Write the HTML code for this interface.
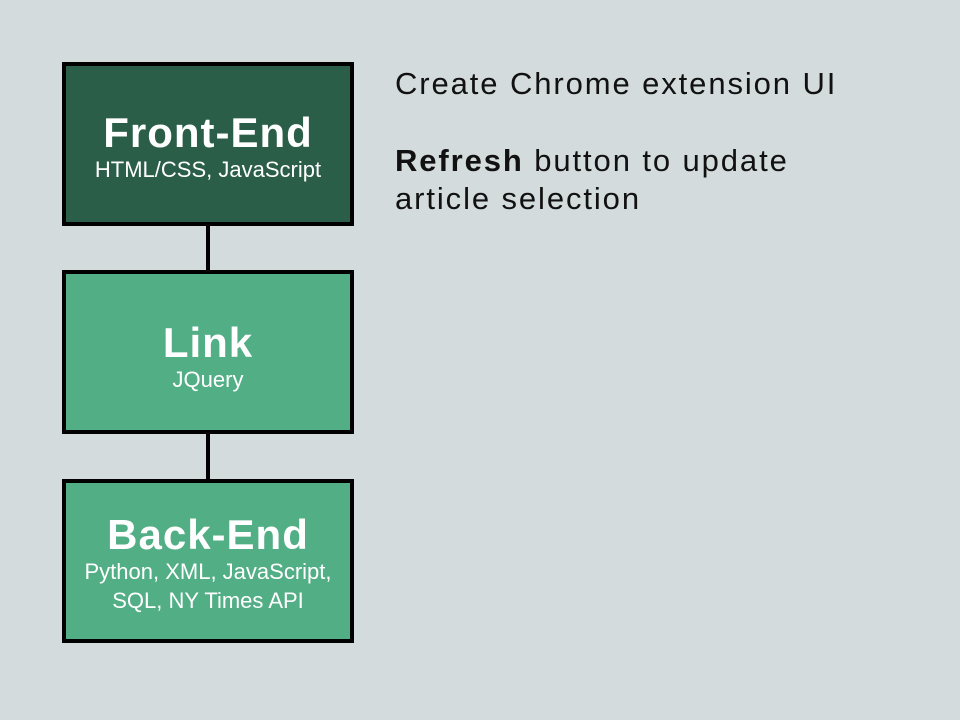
<!DOCTYPE html>
<html><head><meta charset="utf-8"><style>
html,body{margin:0;padding:0;}
body{width:960px;height:720px;background:#d3dbdc;position:relative;overflow:hidden;font-family:"Liberation Sans",sans-serif;}
.box{position:absolute;left:62px;width:284px;border:4px solid #000;box-sizing:content-box;color:#fff;text-align:center;}
.t{font-weight:bold;font-size:42px;letter-spacing:1px;line-height:44px;}
.s{font-size:22px;line-height:29px;}
.line{position:absolute;left:206px;width:4px;background:#000;}
.txt{position:absolute;left:395px;font-size:31px;color:#111;letter-spacing:1.9px;line-height:38px;white-space:nowrap;}
</style></head><body>
<div class="box" style="top:62px;height:156px;background:#2a5e48;">
 <div class="t" style="margin-top:45px">Front-End</div>
 <div class="s">HTML/CSS, JavaScript</div>
</div>
<div class="line" style="top:222px;height:48px"></div>
<div class="box" style="top:270px;height:156px;background:#52ae85;">
 <div class="t" style="margin-top:47px">Link</div>
 <div class="s">JQuery</div>
</div>
<div class="line" style="top:430px;height:49px"></div>
<div class="box" style="top:479px;height:156px;background:#52ae85;">
 <div class="t" style="margin-top:30px">Back-End</div>
 <div class="s">Python, XML, JavaScript,<br>SQL, NY Times API</div>
</div>
<div class="txt" style="top:65px">Create Chrome extension UI</div>
<div class="txt" style="top:142px"><b>Refresh</b> button to update<br>article selection</div>
</body></html>
